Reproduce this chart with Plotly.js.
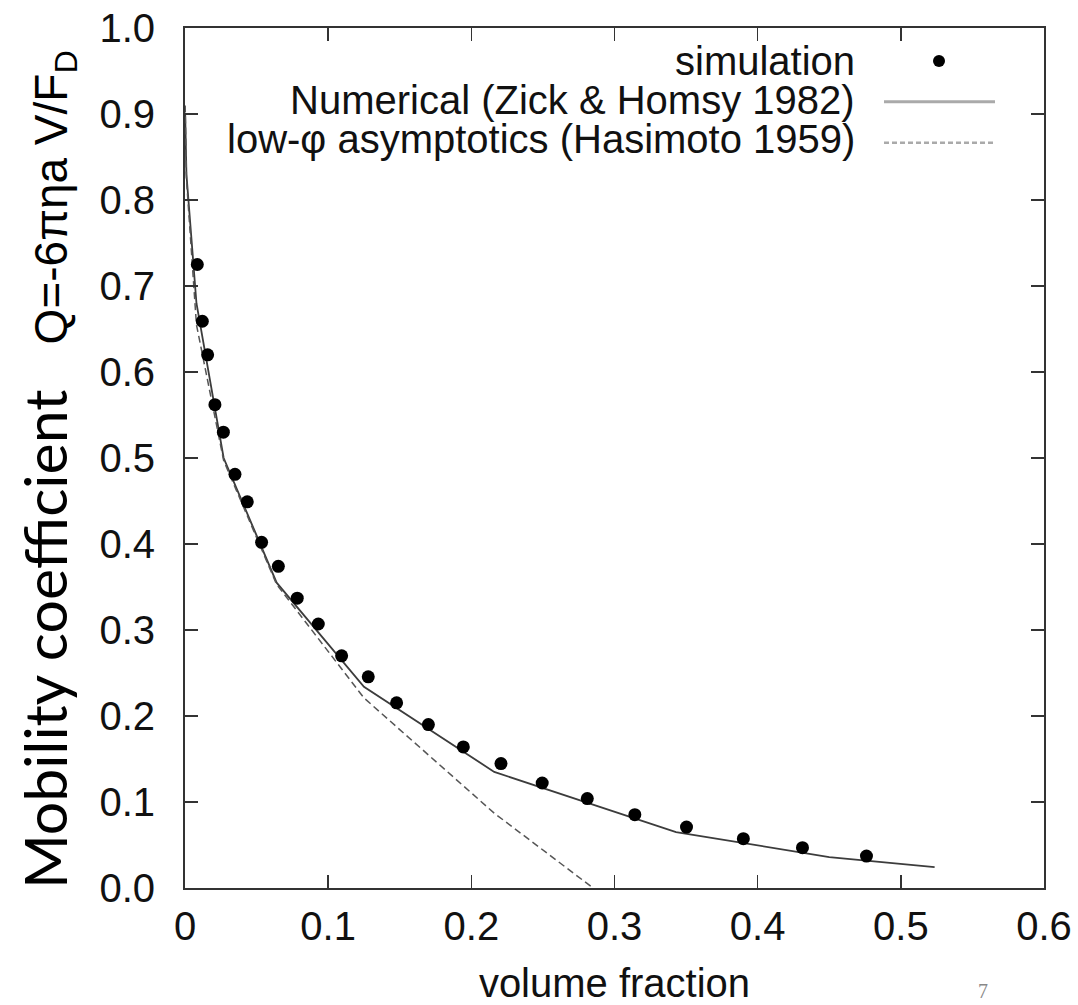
<!DOCTYPE html>
<html>
<head>
<meta charset="utf-8">
<script src="https://cdn.plot.ly/plotly-3.0.1.min.js"></script>
<style>html,body{margin:0;padding:0;background:#fff;}</style>
</head>
<body>
<div id="chart" style="width:1078px;height:1005px;"></div>
<script>
// ---- data ----
const phiSim = [0.0086, 0.0121, 0.0158, 0.0209, 0.0268, 0.0349, 0.0435, 0.0535, 0.0652, 0.0784,
                0.0931, 0.1094, 0.128, 0.1478, 0.170, 0.1944, 0.2207, 0.2495, 0.281, 0.3142,
                0.3503, 0.390, 0.4313, 0.476];
const qSim = [0.725, 0.659, 0.620, 0.562, 0.530, 0.481, 0.449, 0.402, 0.374, 0.337,
              0.307, 0.270, 0.2455, 0.2153, 0.190, 0.164, 0.1447, 0.1221, 0.104, 0.0853,
              0.0709, 0.0574, 0.0469, 0.0371];

const phiZH = [0.000125, 0.001, 0.008, 0.027, 0.064, 0.125, 0.216, 0.343, 0.45, 0.5236];
const qZH   = [0.90, 0.83, 0.68, 0.50, 0.355, 0.234, 0.135, 0.065, 0.036, 0.0243];

const phiHas = [0.000125, 0.001, 0.008, 0.027, 0.064, 0.125, 0.216, 0.343];
const qHas   = [0.91, 0.825, 0.655, 0.497, 0.353, 0.221, 0.087, -0.073];

const legendLabels = ["simulation", "Numerical (Zick &amp; Homsy 1982)", "low-\u03c6 asymptotics (Hasimoto 1959)"];
const xTitle = "volume fraction";
const yTitleMain = "Mobility coefficient";
const yTitleSym = "Q=-6\u03c0\u03b7a V/F<sub>D</sub>";
const slideNumber = "7";

// ---- geometry helpers (pixel -> paper) ----
const W = 1078, H = 1005;
const L = 185, R = 1044, T = 28, B = 888;
const px = x => (x - L) / (R - L);
const py = y => (B - y) / (B - T);

const sans = "Liberation Sans, Arial, Helvetica, sans-serif";

const traces = [
  {x: phiZH, y: qZH, type: 'scatter', mode: 'lines', name: legendLabels[1],
   line: {color: '#3c3c3c', width: 1.8}, hoverinfo: 'skip'},
  {x: phiHas, y: qHas, type: 'scatter', mode: 'lines', name: legendLabels[2],
   line: {color: '#555555', width: 1.5, dash: '7px,4px'}, hoverinfo: 'skip'},
  {x: phiSim, y: qSim, type: 'scatter', mode: 'markers', name: legendLabels[0],
   marker: {color: '#000', size: 13, line: {width: 0}}}
];

const axisCommon = {
  ticks: 'inside', ticklen: 13, tickwidth: 1.5, tickcolor: '#333',
  showline: true, linecolor: '#333', linewidth: 2, mirror: 'allticks',
  showgrid: false, zeroline: false,
  tickfont: {family: sans, size: 40, color: '#111'}
};

const layout = {
  width: W, height: H,
  margin: {l: L, r: W - R, t: T, b: H - B, pad: 0},
  paper_bgcolor: '#fff', plot_bgcolor: '#fff',
  showlegend: false,
  xaxis: Object.assign({}, axisCommon, {
    range: [0, 0.6], tick0: 0, dtick: 0.1, ticklabelstandoff: 2,
    title: {text: xTitle, font: {family: sans, size: 40, color: '#111'}, standoff: 36}
  }),
  yaxis: Object.assign({}, axisCommon, {
    range: [0, 1], tick0: 0, dtick: 0.1, tickformat: '.1f', ticklabelstandoff: 20
  }),
  annotations: [
    {xref: 'paper', yref: 'paper', x: px(857), y: py(61), xanchor: 'right', yanchor: 'middle',
     text: legendLabels[0], showarrow: false, font: {family: sans, size: 40, color: '#111'}},
    {xref: 'paper', yref: 'paper', x: px(857), y: py(100), xanchor: 'right', yanchor: 'middle',
     text: legendLabels[1], showarrow: false, font: {family: sans, size: 40, color: '#111'}},
    {xref: 'paper', yref: 'paper', x: px(857), y: py(139), xanchor: 'right', yanchor: 'middle',
     text: legendLabels[2], showarrow: false, font: {family: sans, size: 40, color: '#111'}},
    {xref: 'paper', yref: 'paper', x: px(46), y: py(470), xanchor: 'center', yanchor: 'middle',
     textangle: -90, showarrow: false,
     text: yTitleMain + '\u00a0\u00a0 <span style="font-family:Liberation Sans, Arial;font-size:46px">' + yTitleSym + '</span>',
     font: {family: 'Lato, Liberation Sans, sans-serif', size: 59, color: '#000'}},
    {xref: 'paper', yref: 'paper', x: px(982.5), y: py(1004), xanchor: 'center', yanchor: 'bottom',
     text: slideNumber, showarrow: false,
     font: {family: 'Liberation Serif, Times New Roman, serif', size: 20, color: '#888'}}
  ],
  shapes: [
    {type: 'circle', xref: 'paper', yref: 'paper', x0: px(933), x1: px(945), y0: py(67), y1: py(55),
     fillcolor: '#000', line: {width: 0}},
    {type: 'line', xref: 'paper', yref: 'paper', x0: px(884), x1: px(995), y0: py(101.7), y1: py(101.7),
     line: {color: '#aaaaaa', width: 3}},
    {type: 'line', xref: 'paper', yref: 'paper', x0: px(884), x1: px(995), y0: py(142.7), y1: py(142.7),
     line: {color: '#aaaaaa', width: 2.5, dash: '5px,3px'}}
  ]
};

Plotly.newPlot('chart', traces, layout, {staticPlot: true, displayModeBar: false});
</script>
</body>
</html>
